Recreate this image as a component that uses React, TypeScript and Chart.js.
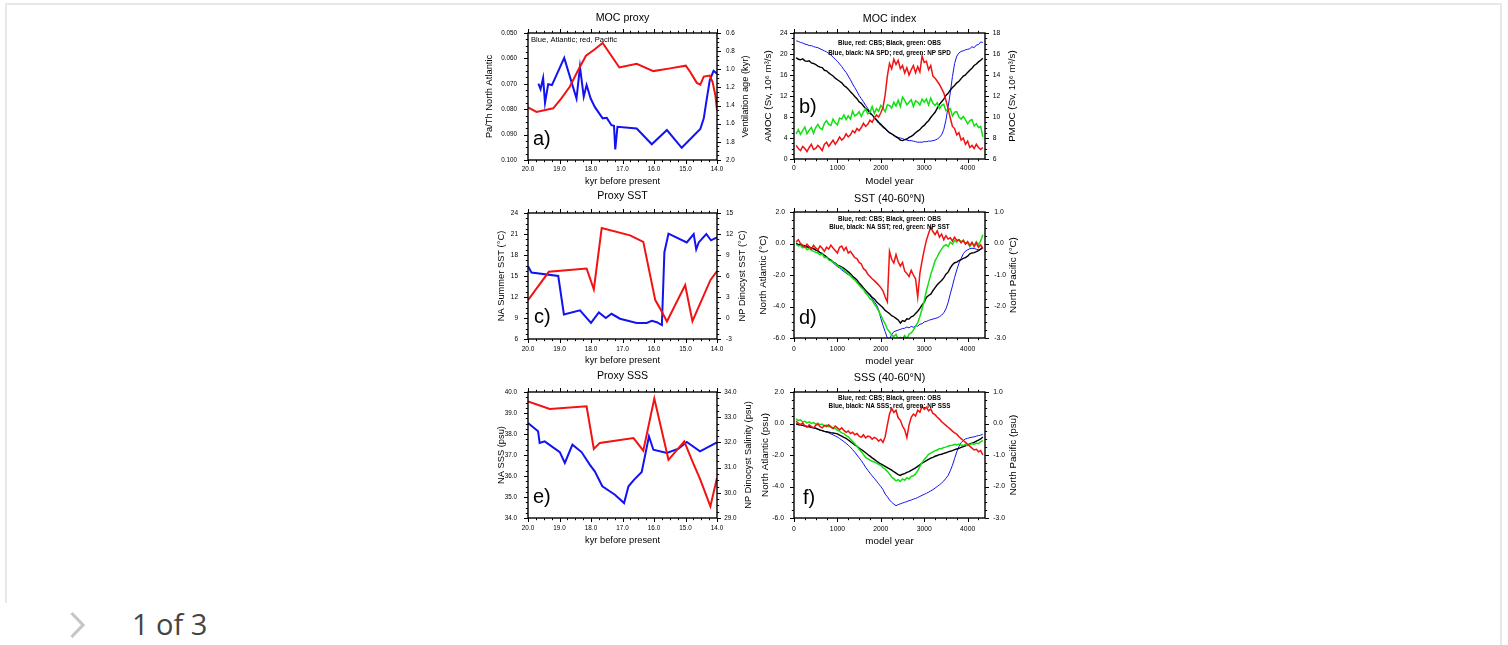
import React, { useEffect, useRef } from "react";
import { Chart, registerables } from "chart.js";

Chart.register(...registerables);

const SANS = '"Liberation Sans", Arial, Helvetica, sans-serif';
const BLUE = "#1212f2";
const RED = "#f21212";
const GREEN = "#10e010";
const BLACK = "#000000";

// ---------- a) MOC proxy: Pa/Th (Atlantic) and ventilation age (Pacific) ----------
const A_ATL_KYR = [19.67, 19.6, 19.52, 19.46, 19.36, 19.24, 18.85, 18.46, 18.35, 18.23, 18.14, 18.01, 17.88, 17.63, 17.5, 17.35, 17.27, 17.23, 17.16, 16.55, 16.07, 15.59, 15.12, 14.53, 14.42, 14.34, 14.23, 14.11, 14.0];
const A_ATL_PATH = [0.0699, 0.0721, 0.0677, 0.0775, 0.0702, 0.0705, 0.0598, 0.0758, 0.0633, 0.0751, 0.0705, 0.0758, 0.0791, 0.0836, 0.0834, 0.0863, 0.0865, 0.0958, 0.0869, 0.0876, 0.0938, 0.0882, 0.0952, 0.0878, 0.0836, 0.0771, 0.0686, 0.0649, 0.066];
const A_PAC_KYR = [20.0, 19.73, 19.2, 18.94, 18.67, 18.41, 18.16, 17.88, 17.63, 17.1, 16.55, 16.02, 15.49, 14.99, 14.85, 14.64, 14.53, 14.42, 14.23, 14.14, 14.05, 14.0];
const A_PAC_AGE = [1.42, 1.47, 1.43, 1.32, 1.19, 1.01, 0.85, 0.78, 0.71, 0.98, 0.94, 1.02, 0.99, 0.96, 1.03, 1.15, 1.17, 1.08, 1.07, 1.14, 1.29, 1.45];

// ---------- c) Proxy SST ----------
const C_NA_KYR = [20.0, 19.89, 19.04, 18.86, 18.35, 18.0, 17.75, 17.53, 17.35, 17.08, 16.55, 16.23, 16.07, 15.91, 15.75, 15.67, 15.54, 14.96, 14.74, 14.66, 14.58, 14.34, 14.19, 14.0];
const C_NA_SST = [16.4, 15.5, 15.0, 9.5, 10.1, 8.3, 9.8, 9.0, 9.6, 8.9, 8.3, 8.3, 8.6, 8.4, 8.0, 18.4, 21.05, 19.8, 21.0, 18.8, 19.8, 21.0, 20.1, 20.5];
const C_NP_KYR = [20.0, 19.34, 18.14, 17.91, 17.66, 16.76, 16.34, 15.96, 15.75, 15.59, 15.01, 14.78, 14.21, 14.0];
const C_NP_SST = [2.56, 6.6, 7.07, 4.1, 12.86, 11.8, 10.87, 2.56, 0.9, -0.5, 4.7, -0.45, 5.4, 6.7];

// ---------- e) Proxy SSS ----------
const E_NA_KYR = [20.0, 19.68, 19.63, 19.47, 18.99, 18.83, 18.59, 18.3, 18.04, 17.88, 17.64, 17.24, 16.95, 16.81, 16.63, 16.39, 16.16, 16.02, 15.59, 15.22, 14.96, 14.54, 14.0];
const E_NA_SSS = [38.52, 38.13, 37.57, 37.65, 37.14, 36.62, 37.49, 37.14, 36.54, 36.22, 35.51, 35.11, 34.71, 35.51, 35.83, 36.19, 37.89, 37.25, 37.1, 37.3, 37.62, 37.17, 37.6];
const E_NP_KYR = [20.0, 19.31, 18.14, 17.91, 17.72, 16.65, 16.34, 15.99, 15.54, 15.04, 14.8, 14.53, 14.21, 14.0];
const E_NP_SSS = [33.63, 33.33, 33.43, 31.74, 31.98, 32.17, 31.67, 33.74, 31.31, 32.04, 31.31, 30.52, 29.46, 30.59];

// ---------- model time series, sampled every 50 model years from year 50 ----------
const MODEL_FIRST_YEAR = 50;
const MODEL_YEAR_STEP = 50;

// b) MOC index (AMOC in Sv on the left, PMOC in Sv on the right)
const B_AMOC_CBS = [22.5, 22.4, 22.2, 22.1, 21.9, 21.8, 21.6, 21.6, 21.4, 21.3, 21.2, 21.0, 20.8, 20.6, 20.4, 20.1, 19.8, 19.4, 19.0, 18.6, 18.1, 17.6, 17.0, 16.5, 15.8, 15.1, 14.3, 13.6, 12.9, 12.1, 11.5, 10.9, 10.2, 9.6, 9.0, 8.4, 7.9, 7.3, 6.8, 6.4, 6.0, 5.7, 5.3, 5.0, 4.8, 4.5, 4.3, 4.1, 4.0, 3.9, 3.7, 3.6, 3.5, 3.5, 3.4, 3.3, 3.2, 3.2, 3.2, 3.3, 3.3, 3.4, 3.4, 3.5, 3.6, 3.8, 4.1, 4.6, 5.6, 7.4, 9.9, 12.6, 15.7, 18.2, 19.6, 20.2, 20.5, 20.6, 20.8, 20.9, 21.0, 21.4, 21.2, 21.7, 21.8, 22.3, 22.2];
const B_AMOC_OBS = [19.3, 19.0, 18.9, 19.1, 18.7, 18.6, 18.7, 18.3, 18.2, 18.0, 17.7, 17.5, 17.4, 16.9, 16.8, 16.4, 16.1, 15.8, 15.4, 15.1, 14.8, 14.5, 14.0, 13.7, 13.3, 12.8, 12.4, 11.9, 11.5, 10.9, 10.6, 10.1, 9.6, 9.3, 8.7, 8.4, 7.9, 7.5, 7.0, 6.6, 6.2, 5.8, 5.4, 5.0, 4.8, 4.5, 4.2, 4.0, 3.6, 3.5, 3.7, 3.8, 4.1, 4.3, 4.6, 5.0, 5.3, 5.6, 6.1, 6.4, 6.9, 7.3, 7.9, 8.4, 8.9, 9.7, 10.4, 10.9, 11.4, 12.1, 12.5, 13.1, 13.6, 14.0, 14.5, 14.8, 15.3, 15.8, 16.0, 16.5, 16.9, 17.3, 17.8, 18.1, 18.5, 18.8, 19.2];
const B_PMOC_CBS = [7.3, 7.0, 6.8, 7.2, 7.0, 6.7, 7.1, 7.4, 6.9, 7.0, 7.3, 7.1, 6.8, 7.4, 7.6, 7.2, 7.5, 7.8, 7.4, 7.7, 8.1, 7.8, 8.0, 8.4, 8.1, 8.3, 8.7, 8.5, 8.9, 8.7, 9.0, 9.4, 9.1, 9.3, 9.7, 9.5, 9.9, 10.2, 10.0, 10.4, 10.9, 12.1, 13.9, 15.1, 14.6, 15.5, 15.0, 15.4, 14.6, 14.9, 14.2, 14.7, 14.0, 14.5, 14.9, 14.2, 14.8, 14.3, 15.8, 15.2, 15.3, 14.5, 14.9, 13.9, 13.7, 13.4, 13.1, 12.7, 12.3, 11.6, 10.8, 9.9, 9.1, 8.9, 8.3, 8.5, 7.8, 8.0, 7.4, 7.7, 7.1, 7.3, 7.0, 7.4, 7.1, 6.9, 7.1];
const B_PMOC_OBS = [8.4, 8.8, 8.35, 8.7, 9.05, 8.4, 8.75, 9.0, 8.45, 9.0, 9.3, 8.95, 8.8, 9.4, 9.65, 9.3, 9.2, 9.8, 9.45, 9.25, 9.9, 9.8, 10.2, 9.75, 10.1, 9.8, 10.55, 10.1, 10.25, 10.5, 10.05, 10.5, 10.75, 10.3, 10.45, 11.0, 10.35, 10.8, 10.55, 11.1, 10.85, 10.5, 11.15, 11.1, 10.85, 11.4, 11.05, 11.6, 11.0, 11.9, 11.6, 11.15, 11.4, 11.65, 11.0, 11.55, 11.4, 11.15, 11.7, 11.4, 11.7, 11.15, 11.8, 11.3, 11.1, 11.35, 10.8, 11.1, 11.2, 10.6, 10.7, 10.8, 10.1, 10.45, 10.5, 10.0, 9.8, 10.05, 9.75, 9.35, 9.65, 9.75, 9.15, 9.35, 9.0, 9.1, 8.1];

// d) SST anomaly 40-60N (North Atlantic left, North Pacific right)
const D_NA_CBS = [-0.05, -0.12, -0.1, -0.18, -0.2, -0.22, -0.28, -0.3, -0.36, -0.42, -0.5, -0.58, -0.66, -0.76, -0.85, -0.98, -1.1, -1.22, -1.35, -1.47, -1.55, -1.68, -1.78, -1.88, -1.98, -2.05, -2.18, -2.3, -2.45, -2.6, -2.72, -2.85, -3.0, -3.15, -3.3, -3.5, -3.7, -3.9, -4.2, -4.75, -5.2, -5.6, -6.0, -6.05, -5.8, -5.6, -5.55, -5.5, -5.45, -5.4, -5.38, -5.3, -5.36, -5.26, -5.32, -5.22, -5.25, -5.12, -5.1, -4.98, -4.95, -4.88, -4.84, -4.8, -4.76, -4.72, -4.65, -4.55, -4.4, -4.15, -3.75, -3.2, -2.7, -2.15, -1.68, -1.25, -0.95, -0.65, -0.48, -0.4, -0.33, -0.3, -0.32, -0.36, -0.4, -0.38, -0.3];
const D_NA_OBS = [0.02, -0.08, -0.05, -0.15, -0.12, -0.22, -0.2, -0.3, -0.32, -0.42, -0.45, -0.58, -0.62, -0.76, -0.84, -0.98, -1.05, -1.18, -1.25, -1.37, -1.42, -1.5, -1.58, -1.68, -1.8, -1.92, -2.08, -2.2, -2.32, -2.5, -2.65, -2.82, -2.98, -3.12, -3.25, -3.42, -3.52, -3.7, -3.82, -3.95, -4.08, -4.25, -4.35, -4.45, -4.58, -4.65, -4.75, -4.85, -5.05, -4.9, -4.95, -4.78, -4.8, -4.65, -4.6, -4.45, -4.3, -4.12, -3.9, -3.72, -3.42, -3.3, -3.22, -3.0, -2.8, -2.62, -2.48, -2.35, -2.18, -1.95, -1.82, -1.55, -1.35, -1.22, -1.18, -1.08, -1.02, -0.95, -0.9, -0.8, -0.65, -0.6, -0.58, -0.52, -0.45, -0.35, -0.22];
const D_NP_CBS = [0.05, 0.12, 0.0, -0.05, -0.12, -0.02, -0.1, -0.18, -0.06, -0.14, -0.2, -0.08, -0.15, -0.25, -0.12, -0.18, -0.05, -0.14, -0.22, -0.3, -0.12, -0.08, -0.22, -0.12, -0.3, -0.25, -0.35, -0.45, -0.48, -0.6, -0.65, -0.8, -0.85, -0.98, -1.05, -1.12, -1.18, -1.25, -1.32, -1.4, -1.5, -1.7, -1.85, -0.25, -0.5, -0.62, -0.35, -0.58, -0.72, -0.6, -0.88, -0.95, -1.05, -0.85, -1.0, -1.12, -1.7, -0.95, -0.55, -0.2, 0.1, 0.32, 0.52, 0.38, 0.28, 0.4, 0.2, 0.3, 0.12, 0.25, 0.14, 0.18, 0.08, 0.2, 0.1, 0.12, 0.02, 0.1, -0.02, 0.06, -0.06, 0.04, -0.1, 0.02, -0.12, -0.04, -0.16];
const D_NP_OBS = [-0.02, -0.08, -0.06, -0.14, -0.1, -0.2, -0.16, -0.22, -0.25, -0.28, -0.3, -0.36, -0.33, -0.45, -0.44, -0.52, -0.55, -0.6, -0.64, -0.7, -0.74, -0.78, -0.85, -0.9, -0.96, -1.02, -1.1, -1.16, -1.24, -1.32, -1.4, -1.46, -1.58, -1.64, -1.75, -1.8, -1.92, -2.02, -2.15, -2.28, -2.42, -2.55, -2.72, -2.8, -2.92, -2.95, -2.88, -3.05, -2.98, -3.02, -2.92, -3.02, -2.88, -2.84, -2.75, -2.62, -2.52, -2.32, -2.08, -1.82, -1.5, -1.25, -0.98, -0.78, -0.55, -0.42, -0.28, -0.18, -0.08, -0.04, -0.1, 0.04, -0.02, 0.1, 0.04, 0.12, 0.06, 0.1, 0.0, 0.02, -0.1, 0.0, -0.06, 0.06, -0.04, 0.08, 0.28];

// f) SSS anomaly 40-60N (North Atlantic left, North Pacific right)
const F_NA_CBS = [-0.02, -0.06, -0.1, -0.13, -0.16, -0.19, -0.22, -0.26, -0.29, -0.32, -0.36, -0.41, -0.46, -0.5, -0.55, -0.6, -0.66, -0.72, -0.79, -0.86, -0.95, -1.05, -1.15, -1.26, -1.38, -1.5, -1.66, -1.82, -2.0, -2.18, -2.36, -2.56, -2.78, -2.97, -3.15, -3.32, -3.48, -3.66, -3.83, -4.0, -4.2, -4.48, -4.65, -4.85, -5.0, -5.12, -5.22, -5.15, -5.1, -5.05, -5.0, -4.96, -4.9, -4.86, -4.8, -4.76, -4.7, -4.63, -4.56, -4.5, -4.43, -4.36, -4.28, -4.2, -4.1, -4.0, -3.9, -3.78, -3.65, -3.48, -3.3, -3.0, -2.65, -2.22, -1.8, -1.45, -1.22, -1.08, -0.98, -0.94, -0.9, -0.87, -0.85, -0.8, -0.77, -0.74, -0.68];
const F_NA_OBS = [-0.02, -0.08, -0.06, -0.12, -0.15, -0.18, -0.2, -0.24, -0.26, -0.3, -0.36, -0.42, -0.45, -0.5, -0.52, -0.55, -0.58, -0.6, -0.63, -0.66, -0.74, -0.8, -0.88, -0.95, -1.05, -1.15, -1.25, -1.36, -1.45, -1.56, -1.65, -1.75, -1.86, -1.97, -2.07, -2.18, -2.28, -2.38, -2.48, -2.57, -2.64, -2.72, -2.8, -2.88, -2.96, -3.06, -3.15, -3.24, -3.3, -3.22, -3.18, -3.1, -3.06, -2.98, -2.9, -2.82, -2.72, -2.62, -2.52, -2.44, -2.36, -2.28, -2.2, -2.15, -2.08, -2.03, -1.98, -1.95, -1.9, -1.86, -1.8, -1.76, -1.72, -1.66, -1.62, -1.58, -1.52, -1.47, -1.42, -1.36, -1.3, -1.25, -1.2, -1.12, -1.06, -0.98, -0.86];
const F_NP_CBS = [0.08, 0.0, -0.04, 0.02, -0.08, -0.12, -0.04, -0.1, -0.14, -0.06, -0.02, -0.1, -0.14, -0.06, -0.1, -0.04, -0.12, -0.16, -0.08, -0.14, -0.2, -0.14, -0.22, -0.28, -0.24, -0.32, -0.28, -0.36, -0.32, -0.4, -0.44, -0.36, -0.46, -0.4, -0.42, -0.5, -0.44, -0.48, -0.56, -0.5, -0.6, -0.42, -0.05, 0.3, 0.48, 0.35, 0.42, 0.18, 0.1, -0.08, -0.2, -0.45, -0.05, 0.2, 0.3, 0.24, 0.42, 0.36, 0.55, 0.45, 0.52, 0.4, 0.46, 0.32, 0.28, 0.2, 0.14, 0.06, 0.0, -0.06, -0.12, -0.18, -0.24, -0.3, -0.34, -0.42, -0.48, -0.54, -0.6, -0.66, -0.72, -0.78, -0.84, -0.82, -0.9, -0.86, -1.0];
const F_NP_OBS = [0.15, 0.1, 0.12, 0.05, 0.07, 0.02, 0.05, 0.0, 0.03, -0.02, 0.01, -0.04, -0.02, -0.08, -0.05, -0.1, -0.09, -0.15, -0.16, -0.22, -0.24, -0.3, -0.32, -0.38, -0.42, -0.5, -0.57, -0.64, -0.72, -0.82, -0.9, -0.98, -1.08, -1.12, -1.16, -1.2, -1.22, -1.26, -1.3, -1.34, -1.4, -1.45, -1.52, -1.6, -1.7, -1.76, -1.82, -1.78, -1.84, -1.76, -1.8, -1.72, -1.76, -1.68, -1.66, -1.6, -1.5, -1.36, -1.24, -1.14, -1.06, -0.98, -0.94, -0.9, -0.86, -0.84, -0.8, -0.8, -0.76, -0.75, -0.72, -0.7, -0.69, -0.66, -0.68, -0.65, -0.68, -0.7, -0.66, -0.7, -0.67, -0.64, -0.66, -0.62, -0.64, -0.58, -0.54];

// ---------- tick values ----------
const KYR_TICKS = [20, 19, 18, 17, 16, 15, 14];
const MODEL_YEAR_TICKS = [0, 1000, 2000, 3000, 4000];
const A_PATH_TICKS = [0.05, 0.06, 0.07, 0.08, 0.09, 0.1];
const A_AGE_TICKS = [0.6, 0.8, 1.0, 1.2, 1.4, 1.6, 1.8, 2.0];
const B_AMOC_TICKS = [0, 4, 8, 12, 16, 20, 24];
const B_PMOC_TICKS = [6, 8, 10, 12, 14, 16, 18];
const C_NA_TICKS = [6, 9, 12, 15, 18, 21, 24];
const C_NP_TICKS = [-3, 0, 3, 6, 9, 12, 15];
const NA_ANOM_TICKS = [-6, -4, -2, 0, 2];
const NP_ANOM_TICKS = [-3, -2, -1, 0, 1];
const E_NA_TICKS = [34, 35, 36, 37, 38, 39, 40];
const E_NP_TICKS = [29, 30, 31, 32, 33, 34];

const MODEL_YEARS = B_AMOC_CBS.map((_, i) => MODEL_FIRST_YEAR + i * MODEL_YEAR_STEP);

type AxisSpec = { min: number; max: number; reverse?: boolean; ticks: number[]; digits: number };
type Series = { xs: number[]; ys: number[]; axis: "yL" | "yR"; color: string; width: number };
type Note = { text: string; x: number; y: number; align: CanvasTextAlign; font: string };
type PanelSpec = {
  plot: [number, number, number, number];
  title: string;
  titleY: number;
  x: AxisSpec;
  yL: AxisSpec;
  yR: AxisSpec;
  xTitle: string;
  xTitleY: number;
  yLTitle: string;
  yLTitleX: number;
  yRTitle: string;
  yRTitleX: number;
  titleSize: number;
  axisTitleSize: number;
  tickSize: number;
  pad: { x: number; yL: number; yR: number };
  letter: string;
  letterAt: [number, number];
  notes: Note[];
  series: Series[];
};

const SIDE = 60;
const TOP_SPACE = 32;
const BOTTOM_SPACE = 32;

const kyrAxis: AxisSpec = { min: 14, max: 20, reverse: true, ticks: KYR_TICKS, digits: 1 };
const yearAxis: AxisSpec = { min: 0, max: 4400, ticks: MODEL_YEAR_TICKS, digits: 0 };

const noteFont = `bold 6.3px ${SANS}`;

const PANELS: PanelSpec[] = [
  {
    plot: [528, 33, 717, 160],
    title: "MOC proxy",
    titleY: 17.7,
    x: kyrAxis,
    yL: { min: 0.05, max: 0.1, reverse: true, ticks: A_PATH_TICKS, digits: 3 },
    yR: { min: 0.6, max: 2.0, reverse: true, ticks: A_AGE_TICKS, digits: 1 },
    xTitle: "kyr before present",
    xTitleY: 181.7,
    yLTitle: "Pa/Th North Atlantic",
    yLTitleX: 489,
    yRTitle: "Ventilation age (kyr)",
    yRTitleX: 745.7,
    titleSize: 10.6,
    axisTitleSize: 9.3,
    tickSize: 6.3,
    pad: { x: 5.4, yL: 11, yR: 9 },
    letter: "a)",
    letterAt: [533, 145],
    notes: [{ text: "Blue, Atlantic; red, Pacific", x: 531, y: 40, align: "left", font: `7.6px ${SANS}` }],
    series: [
      { xs: A_PAC_KYR, ys: A_PAC_AGE, axis: "yR", color: RED, width: 2 },
      { xs: A_ATL_KYR, ys: A_ATL_PATH, axis: "yL", color: BLUE, width: 2 },
    ],
  },
  {
    plot: [794, 33, 985, 159],
    title: "MOC index",
    titleY: 19,
    x: yearAxis,
    yL: { min: 0, max: 24, ticks: B_AMOC_TICKS, digits: 0 },
    yR: { min: 6, max: 18, ticks: B_PMOC_TICKS, digits: 0 },
    xTitle: "Model year",
    xTitleY: 181,
    yLTitle: "AMOC (Sv, 10\u2076 m\u00B3/s)",
    yLTitleX: 768,
    yRTitle: "PMOC (Sv, 10\u2076 m\u00B3/s)",
    yRTitleX: 1012.3,
    titleSize: 10.7,
    axisTitleSize: 9.8,
    tickSize: 6.8,
    pad: { x: 4.8, yL: 6.5, yR: 7.7 },
    letter: "b)",
    letterAt: [799, 113],
    notes: [
      { text: "Blue, red: CBS; Black, green: OBS", x: 889.5, y: 43.5, align: "center", font: noteFont },
      { text: "Blue, black: NA SPD; red, green: NP SPD", x: 889.5, y: 53.5, align: "center", font: noteFont },
    ],
    series: [
      { xs: MODEL_YEARS, ys: B_PMOC_CBS, axis: "yR", color: RED, width: 1.5 },
      { xs: MODEL_YEARS, ys: B_PMOC_OBS, axis: "yR", color: GREEN, width: 1.5 },
      { xs: MODEL_YEARS, ys: B_AMOC_OBS, axis: "yL", color: BLACK, width: 1.4 },
      { xs: MODEL_YEARS, ys: B_AMOC_CBS, axis: "yL", color: BLUE, width: 1 },
    ],
  },
  {
    plot: [528, 213, 717, 339],
    title: "Proxy SST",
    titleY: 196,
    x: kyrAxis,
    yL: { min: 6, max: 24, ticks: C_NA_TICKS, digits: 0 },
    yR: { min: -3, max: 15, ticks: C_NP_TICKS, digits: 0 },
    xTitle: "kyr before present",
    xTitleY: 360.7,
    yLTitle: "NA Summer SST (\u00B0C)",
    yLTitleX: 501.7,
    yRTitle: "NP Dinocyst SST (\u00B0C)",
    yRTitleX: 742.3,
    titleSize: 10.6,
    axisTitleSize: 9.3,
    tickSize: 6.5,
    pad: { x: 6.1, yL: 10, yR: 9 },
    letter: "c)",
    letterAt: [534, 323],
    notes: [],
    series: [
      { xs: C_NP_KYR, ys: C_NP_SST, axis: "yR", color: RED, width: 2 },
      { xs: C_NA_KYR, ys: C_NA_SST, axis: "yL", color: BLUE, width: 2 },
    ],
  },
  {
    plot: [794, 212, 985, 338],
    title: "SST (40-60\u00B0N)",
    titleY: 199.3,
    x: yearAxis,
    yL: { min: -6, max: 2, ticks: NA_ANOM_TICKS, digits: 1 },
    yR: { min: -3, max: 1, ticks: NP_ANOM_TICKS, digits: 1 },
    xTitle: "model year",
    xTitleY: 361.7,
    yLTitle: "North Atlantic (\u00B0C)",
    yLTitleX: 763.3,
    yRTitle: "North Pacific (\u00B0C)",
    yRTitleX: 1013.3,
    titleSize: 10.8,
    axisTitleSize: 9.8,
    tickSize: 6.8,
    pad: { x: 6.8, yL: 9, yR: 9.3 },
    letter: "d)",
    letterAt: [799, 324],
    notes: [
      { text: "Blue, red: CBS; Black, green: OBS", x: 889.5, y: 219.3, align: "center", font: noteFont },
      { text: "Blue, black: NA SST; red, green: NP SST", x: 889.5, y: 227.7, align: "center", font: noteFont },
    ],
    series: [
      { xs: MODEL_YEARS, ys: D_NP_CBS, axis: "yR", color: RED, width: 1.5 },
      { xs: MODEL_YEARS, ys: D_NP_OBS, axis: "yR", color: GREEN, width: 1.5 },
      { xs: MODEL_YEARS, ys: D_NA_OBS, axis: "yL", color: BLACK, width: 1.4 },
      { xs: MODEL_YEARS, ys: D_NA_CBS, axis: "yL", color: BLUE, width: 1 },
    ],
  },
  {
    plot: [528, 392, 717, 518],
    title: "Proxy SSS",
    titleY: 376,
    x: kyrAxis,
    yL: { min: 34, max: 40, ticks: E_NA_TICKS, digits: 1 },
    yR: { min: 29, max: 34, ticks: E_NP_TICKS, digits: 1 },
    xTitle: "kyr before present",
    xTitleY: 540.7,
    yLTitle: "NA SSS (psu)",
    yLTitleX: 501.7,
    yRTitle: "NP Dinocyst Salinity (psu)",
    yRTitleX: 748,
    titleSize: 10.6,
    axisTitleSize: 9.3,
    tickSize: 6.3,
    pad: { x: 6.1, yL: 11, yR: 7.3 },
    letter: "e)",
    letterAt: [533, 503],
    notes: [],
    series: [
      { xs: E_NP_KYR, ys: E_NP_SSS, axis: "yR", color: RED, width: 2 },
      { xs: E_NA_KYR, ys: E_NA_SSS, axis: "yL", color: BLUE, width: 2 },
    ],
  },
  {
    plot: [794, 392, 985, 518],
    title: "SSS (40-60\u00B0N)",
    titleY: 378.3,
    x: yearAxis,
    yL: { min: -6, max: 2, ticks: NA_ANOM_TICKS, digits: 1 },
    yR: { min: -3, max: 1, ticks: NP_ANOM_TICKS, digits: 1 },
    xTitle: "model year",
    xTitleY: 541.7,
    yLTitle: "North Atlantic (psu)",
    yLTitleX: 765,
    yRTitle: "North Pacific (psu)",
    yRTitleX: 1013.3,
    titleSize: 10.8,
    axisTitleSize: 9.8,
    tickSize: 6.8,
    pad: { x: 6.7, yL: 10, yR: 8.3 },
    letter: "f)",
    letterAt: [803, 504],
    notes: [
      { text: "Blue, red: CBS; Black, green: OBS", x: 889.5, y: 398.3, align: "center", font: noteFont },
      { text: "Blue, black: NA SSS; red, green: NP SSS", x: 889.5, y: 406.7, align: "center", font: noteFont },
    ],
    series: [
      { xs: MODEL_YEARS, ys: F_NP_CBS, axis: "yR", color: RED, width: 1.5 },
      { xs: MODEL_YEARS, ys: F_NP_OBS, axis: "yR", color: GREEN, width: 1.5 },
      { xs: MODEL_YEARS, ys: F_NA_OBS, axis: "yL", color: BLACK, width: 1.4 },
      { xs: MODEL_YEARS, ys: F_NA_CBS, axis: "yL", color: BLUE, width: 1 },
    ],
  },
];

function scaleOptions(ax: AxisSpec, position: "bottom" | "left" | "right", size: number, padding: number, fontSize: number) {
  return {
    type: "linear" as const,
    position,
    min: ax.min,
    max: ax.max,
    reverse: !!ax.reverse,
    grid: { display: false, drawTicks: false },
    border: { display: false },
    ticks: {
      autoSkip: false,
      maxRotation: 0,
      minRotation: 0,
      padding,
      color: "#000",
      font: { family: SANS, size: fontSize },
      callback: (v: number | string) => Number(v).toFixed(ax.digits),
    },
    afterBuildTicks: (s: any) => {
      s.ticks = ax.ticks.map((v) => ({ value: v }));
    },
    afterFit: (s: any) => {
      if (position === "bottom") s.height = size;
      else s.width = size;
    },
  };
}

// value list for minor (3 per major) and major tick marks
function tickMarks(ax: AxisSpec): { v: number; major: boolean }[] {
  const sorted = [...ax.ticks].sort((p, q) => p - q);
  const step = (sorted[1] - sorted[0]) / 4;
  const out: { v: number; major: boolean }[] = [];
  const k0 = Math.ceil((ax.min - sorted[0]) / step - 1e-6);
  const k1 = Math.floor((ax.max - sorted[0]) / step + 1e-6);
  for (let k = k0; k <= k1; k++) {
    out.push({ v: sorted[0] + k * step, major: ((k % 4) + 4) % 4 === 0 });
  }
  return out;
}

function decorPlugin(spec: PanelSpec, ox: number, oy: number) {
  return {
    id: "panelDecor",
    afterDatasetsDraw(chart: any) {
      const ctx: CanvasRenderingContext2D = chart.ctx;
      const { left, right, top, bottom } = chart.chartArea;
      const sx = chart.scales.x;
      const sl = chart.scales.yL;
      const sr = chart.scales.yR;
      const MAJ = 4;
      const MIN = 2.2;
      ctx.save();
      ctx.strokeStyle = "#000";
      ctx.lineWidth = 1;
      ctx.beginPath();
      for (const t of tickMarks(spec.x)) {
        const px = Math.round(sx.getPixelForValue(t.v)) + 0.5;
        const len = t.major ? MAJ : MIN;
        ctx.moveTo(px, bottom);
        ctx.lineTo(px, bottom + len);
        ctx.moveTo(px, top);
        ctx.lineTo(px, top - len);
      }
      for (const t of tickMarks(spec.yL)) {
        const py = Math.round(sl.getPixelForValue(t.v)) + 0.5;
        ctx.moveTo(left, py);
        ctx.lineTo(left - (t.major ? MAJ : MIN), py);
      }
      for (const t of tickMarks(spec.yR)) {
        const py = Math.round(sr.getPixelForValue(t.v)) + 0.5;
        ctx.moveTo(right, py);
        ctx.lineTo(right + (t.major ? MAJ : MIN), py);
      }
      ctx.stroke();
      ctx.lineWidth = 1.4;
      ctx.strokeRect(left, top, right - left, bottom - top);

      const text = (s: string, x: number, y: number, font: string, align: CanvasTextAlign, rot: number, base: CanvasTextBaseline = "middle") => {
        ctx.save();
        ctx.translate(x - ox, y - oy);
        ctx.rotate(rot);
        ctx.font = font;
        ctx.textAlign = align;
        ctx.textBaseline = base;
        ctx.fillStyle = "#000";
        ctx.fillText(s, 0, 0);
        ctx.restore();
      };
      const midX = ox + (left + right) / 2;
      const midY = oy + (top + bottom) / 2;
      text(spec.title, midX, spec.titleY, `${spec.titleSize}px ${SANS}`, "center", 0);
      text(spec.xTitle, midX, spec.xTitleY, `${spec.axisTitleSize}px ${SANS}`, "center", 0);
      text(spec.yLTitle, spec.yLTitleX, midY, `${spec.axisTitleSize}px ${SANS}`, "center", -Math.PI / 2);
      text(spec.yRTitle, spec.yRTitleX, midY, `${spec.axisTitleSize}px ${SANS}`, "center", -Math.PI / 2);
      text(spec.letter, spec.letterAt[0], spec.letterAt[1], `20px ${SANS}`, "left", 0, "alphabetic");
      for (const n of spec.notes) text(n.text, n.x, n.y, n.font, n.align, 0);
      ctx.restore();
    },
  };
}

function Panel({ spec }: { spec: PanelSpec }) {
  const ref = useRef<HTMLCanvasElement>(null);
  const [l, t, r, b] = spec.plot;
  const ox = l - SIDE;
  const oy = t - TOP_SPACE;
  const cw = r - l + 2 * SIDE;
  const ch = b - t + TOP_SPACE + BOTTOM_SPACE;

  useEffect(() => {
    const canvas = ref.current;
    if (!canvas) return;
    const chart = new Chart(canvas, {
      type: "line",
      data: {
        datasets: spec.series.map((s) => ({
          data: s.ys.map((y, i) => ({ x: s.xs[i], y })),
          xAxisID: "x",
          yAxisID: s.axis,
          borderColor: s.color,
          backgroundColor: s.color,
          borderWidth: s.width,
          pointRadius: 0,
          tension: 0,
          fill: false,
        })),
      },
      options: {
        responsive: false,
        animation: false,
        devicePixelRatio: 1,
        events: [],
        layout: { padding: { top: TOP_SPACE, left: 0, right: 0, bottom: 0 } },
        plugins: { legend: { display: false }, tooltip: { enabled: false }, title: { display: false } },
        scales: {
          x: scaleOptions(spec.x, "bottom", BOTTOM_SPACE, spec.pad.x, spec.tickSize),
          yL: scaleOptions(spec.yL, "left", SIDE, spec.pad.yL, spec.tickSize),
          yR: scaleOptions(spec.yR, "right", SIDE, spec.pad.yR, spec.tickSize),
        },
      } as any,
      plugins: [decorPlugin(spec, ox, oy)],
    });
    return () => chart.destroy();
  }, [spec]);

  return (
    <canvas
      ref={ref}
      width={cw}
      height={ch}
      style={{ position: "absolute", left: ox, top: oy, width: cw, height: ch }}
    />
  );
}

export default function App() {
  const line = "#e8e8e8";
  return (
    <div style={{ position: "absolute", left: 0, top: 0, width: 1508, height: 645, background: "#fff", overflow: "hidden" }}>
      <div style={{ position: "absolute", left: 5, top: 3, width: 1497, height: 2, background: line }} />
      <div style={{ position: "absolute", left: 5, top: 3, width: 2, height: 600, background: line }} />
      <div style={{ position: "absolute", left: 1500, top: 3, width: 2, height: 642, background: line }} />
      {PANELS.map((p, i) => (
        <Panel key={i} spec={p} />
      ))}
      <svg style={{ position: "absolute", left: 64, top: 606 }} width={28} height={38}>
        <polyline points="7.5,7 19,19 7.5,31" fill="none" stroke="#c6c6c6" strokeWidth={3.2} />
      </svg>
      <div
        style={{
          position: "absolute",
          left: 132,
          top: 609,
          fontFamily: '"Open Sans", sans-serif',
          fontSize: 29,
          lineHeight: "29px",
          color: "#444",
          whiteSpace: "nowrap",
        }}
      >
        1 of 3
      </div>
    </div>
  );
}
